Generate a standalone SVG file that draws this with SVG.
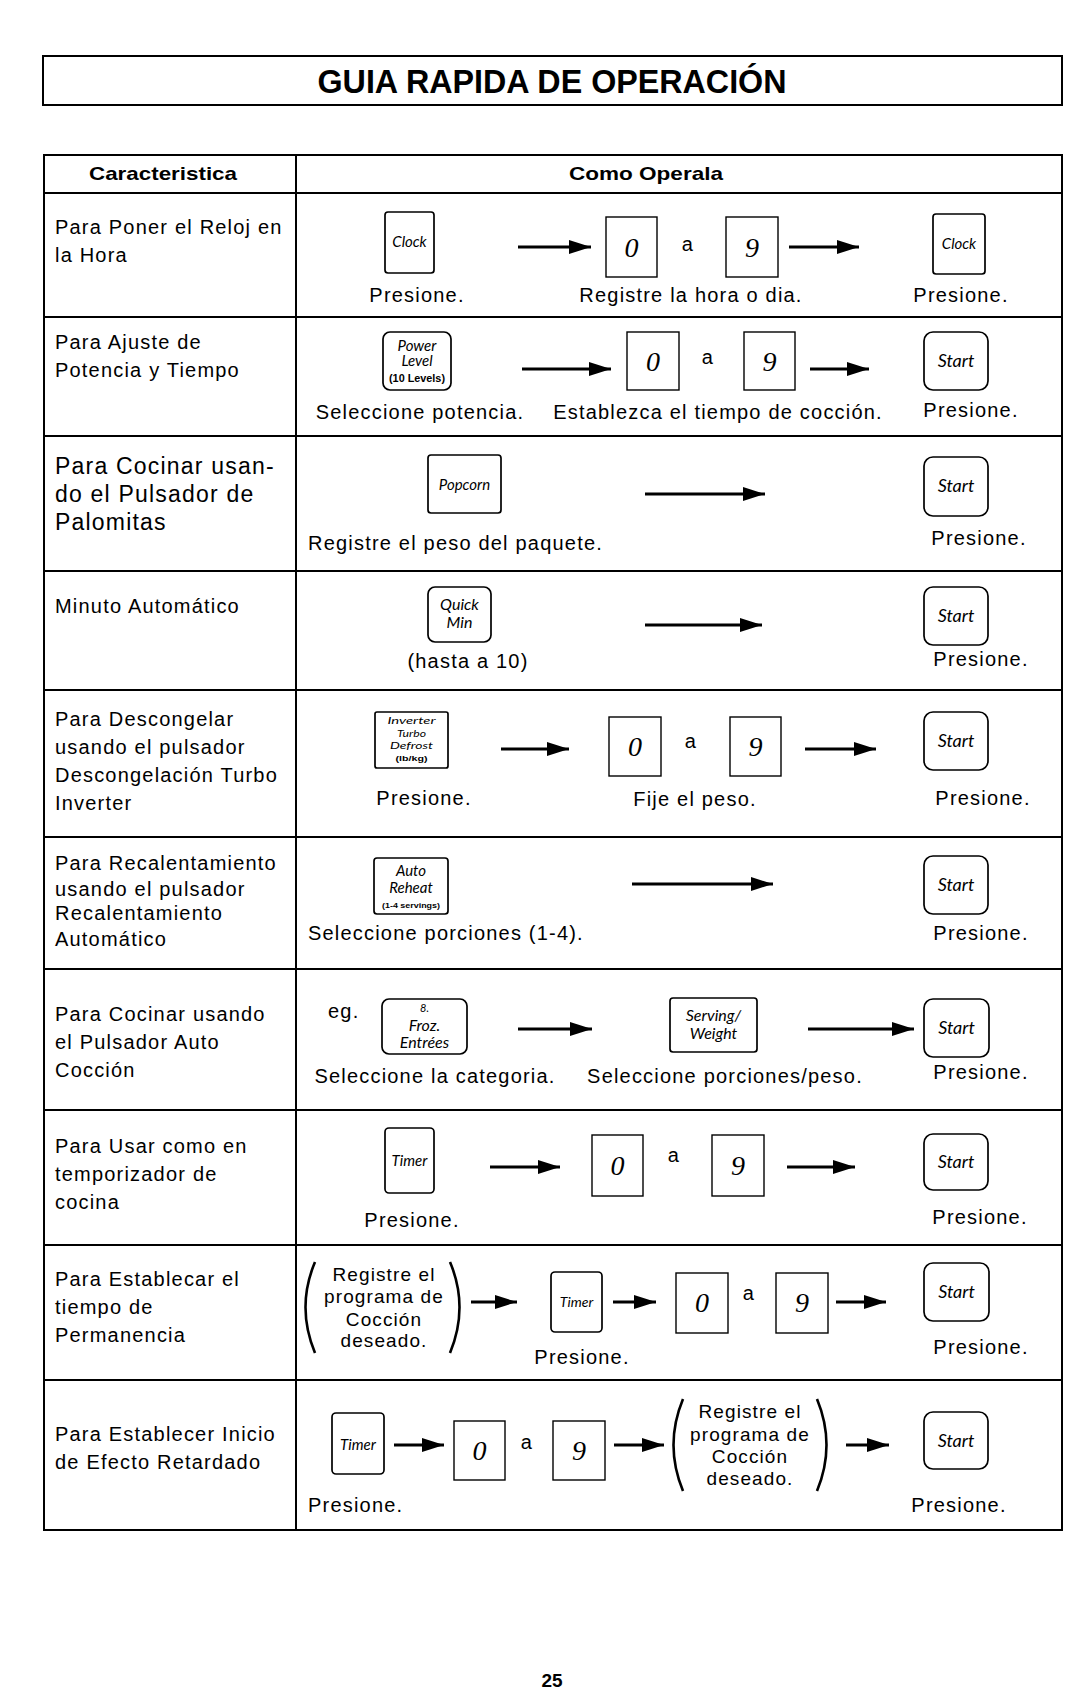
<svg xmlns="http://www.w3.org/2000/svg" width="1080" height="1690" viewBox="0 0 1080 1690">
<style>
.ln{stroke:#000;stroke-width:2;fill:none}
.t{font-family:'Liberation Sans',Arial,sans-serif;font-size:20px;letter-spacing:1.2px;fill:#000}
.tb{font-family:'Liberation Sans',Arial,sans-serif;font-weight:bold;fill:#000}
.c1{font-family:'Liberation Sans',Arial,sans-serif;font-size:20px;letter-spacing:1.2px;fill:#000}
.c1b{font-family:'Liberation Sans',Arial,sans-serif;font-size:23px;letter-spacing:1.2px;fill:#000}
.br{font-family:'Liberation Sans',Arial,sans-serif;font-size:19px;letter-spacing:1.1px;fill:#000;text-anchor:middle}
.m{text-anchor:middle}
.k{fill:#fff;stroke:#000;stroke-width:1.7}
.bx{fill:#fff;stroke:#000;stroke-width:1.4}
.kl{font-family:Lato,'Liberation Sans',sans-serif;font-style:italic;text-anchor:middle;fill:#000}
.ks{font-family:'Liberation Sans',Arial,sans-serif;font-weight:bold;text-anchor:middle;fill:#000}
.dg{font-family:'Liberation Serif','Times New Roman',serif;font-style:italic;font-size:28px;text-anchor:middle;fill:#000}
.ar{stroke:#000;stroke-width:3.2;fill:none;marker-end:url(#ah)}
.pr{stroke:#000;stroke-width:2.6;fill:none}
</style>
<defs>
<marker id="ah" markerUnits="userSpaceOnUse" markerWidth="22" markerHeight="14" refX="22" refY="7" orient="auto">
<path d="M0,0 L22,7 L0,14 z" fill="#000"/>
</marker>
</defs>
<rect width="1080" height="1690" fill="#fff"/>

<g id="title">
<rect x="43" y="56" width="1019" height="49" class="ln"/>
<text x="552" y="93" class="tb m" font-size="34" textLength="469" lengthAdjust="spacingAndGlyphs">GUIA RAPIDA DE OPERACIÓN</text>
</g>

<g id="table">
<rect x="44" y="155" width="1018" height="1375" class="ln"/>
<line x1="296" y1="155" x2="296" y2="1530" class="ln"/>
<line x1="44" y1="193" x2="1062" y2="193" class="ln"/>
<line x1="44" y1="317" x2="1062" y2="317" class="ln"/>
<line x1="44" y1="436" x2="1062" y2="436" class="ln"/>
<line x1="44" y1="571" x2="1062" y2="571" class="ln"/>
<line x1="44" y1="690" x2="1062" y2="690" class="ln"/>
<line x1="44" y1="837" x2="1062" y2="837" class="ln"/>
<line x1="44" y1="969" x2="1062" y2="969" class="ln"/>
<line x1="44" y1="1110" x2="1062" y2="1110" class="ln"/>
<line x1="44" y1="1245" x2="1062" y2="1245" class="ln"/>
<line x1="44" y1="1380" x2="1062" y2="1380" class="ln"/>
<text x="163" y="180" class="tb m" font-size="19" textLength="148" lengthAdjust="spacingAndGlyphs">Caracteristica</text>
<text x="646" y="180" class="tb m" font-size="19" textLength="154" lengthAdjust="spacingAndGlyphs">Como Operala</text>
</g>

<g id="features">
<text x="55" y="234" class="c1">Para Poner el Reloj en</text>
<text x="55" y="262" class="c1">la Hora</text>
<text x="55" y="349" class="c1">Para Ajuste de</text>
<text x="55" y="377" class="c1">Potencia y Tiempo</text>
<text x="55" y="474" class="c1b">Para Cocinar usan-</text>
<text x="55" y="502" class="c1b">do el Pulsador de</text>
<text x="55" y="530" class="c1b">Palomitas</text>
<text x="55" y="613" class="c1">Minuto Automático</text>
<text x="55" y="726" class="c1">Para Descongelar</text>
<text x="55" y="754" class="c1">usando el pulsador</text>
<text x="55" y="782" class="c1">Descongelación Turbo</text>
<text x="55" y="810" class="c1">Inverter</text>
<text x="55" y="870" class="c1">Para Recalentamiento</text>
<text x="55" y="896" class="c1">usando el pulsador</text>
<text x="55" y="920" class="c1">Recalentamiento</text>
<text x="55" y="946" class="c1">Automático</text>
<text x="55" y="1021" class="c1">Para Cocinar usando</text>
<text x="55" y="1049" class="c1">el Pulsador Auto</text>
<text x="55" y="1077" class="c1">Cocción</text>
<text x="55" y="1153" class="c1">Para Usar como en</text>
<text x="55" y="1181" class="c1">temporizador de</text>
<text x="55" y="1209" class="c1">cocina</text>
<text x="55" y="1286" class="c1">Para Establecar el</text>
<text x="55" y="1314" class="c1">tiempo de</text>
<text x="55" y="1342" class="c1">Permanencia</text>
<text x="55" y="1441" class="c1">Para Establecer Inicio</text>
<text x="55" y="1469" class="c1">de Efecto Retardado</text>
</g>

<!-- Row 1 -->
<g id="r1-clock"><rect x="385" y="212" width="49" height="61" rx="3" class="k"/><text x="409.5" y="247" class="kl" font-size="15">Clock</text></g>
<g id="r1-d0"><rect x="606" y="217" width="51" height="60" class="bx"/><text x="631.5" y="257" class="dg">0</text></g>
<text x="688" y="251" class="t m">a</text>
<g id="r1-d9"><rect x="726" y="217" width="52" height="60" class="bx"/><text x="752" y="257" class="dg">9</text></g>
<g id="r1-clock2"><rect x="933" y="214" width="52" height="60" rx="3" class="k"/><text x="959" y="249" class="kl" font-size="15">Clock</text></g>
<text x="417" y="302" class="t m">Presione.</text>
<text x="691" y="302" class="t m">Registre la hora o dia.</text>
<text x="961" y="302" class="t m">Presione.</text>

<!-- Row 2 -->
<g id="r2-power"><rect x="383" y="332" width="68" height="58" rx="7" class="k"/>
<text x="417" y="351" class="kl" font-size="15">Power</text>
<text x="417" y="366" class="kl" font-size="15">Level</text>
<text x="417" y="382" class="ks" font-size="10" textLength="56" lengthAdjust="spacingAndGlyphs">(10 Levels)</text></g>
<g id="r2-d0"><rect x="627" y="332" width="52" height="58" class="bx"/><text x="653" y="371" class="dg">0</text></g>
<text x="708" y="364" class="t m">a</text>
<g id="r2-d9"><rect x="744" y="332" width="51" height="58" class="bx"/><text x="769.5" y="371" class="dg">9</text></g>
<g id="r2-start"><rect x="924" y="332" width="64" height="58" rx="9" class="k"/><text x="956" y="367" class="kl" font-size="18">Start</text></g>
<text x="420" y="419" class="t m">Seleccione potencia.</text>
<text x="718" y="419" class="t m">Establezca el tiempo de cocción.</text>
<text x="971" y="417" class="t m">Presione.</text>

<!-- Row 3 -->
<g id="r3-popcorn"><rect x="428" y="455" width="73" height="58" rx="3" class="k"/><text x="464.5" y="490" class="kl" font-size="15">Popcorn</text></g>
<g id="r3-start"><rect x="924" y="457" width="64" height="59" rx="9" class="k"/><text x="956" y="492" class="kl" font-size="18">Start</text></g>
<text x="308" y="550" class="t">Registre el peso del paquete.</text>
<text x="979" y="545" class="t m">Presione.</text>

<!-- Row 4 -->
<g id="r4-quick"><rect x="428" y="587" width="63" height="55" rx="7" class="k"/>
<text x="459.5" y="610" class="kl" font-size="16">Quick</text>
<text x="459.5" y="628" class="kl" font-size="16">Min</text></g>
<g id="r4-start"><rect x="924" y="587" width="64" height="58" rx="9" class="k"/><text x="956" y="622" class="kl" font-size="18">Start</text></g>
<text x="468" y="668" class="t m">(hasta a 10)</text>
<text x="981" y="666" class="t m">Presione.</text>

<!-- Row 5 -->
<g id="r5-defrost"><rect x="375" y="712" width="73" height="56" rx="2" class="k"/>
<text x="411.5" y="724" class="kl" font-size="10" textLength="48" lengthAdjust="spacingAndGlyphs">Inverter</text>
<text x="411.5" y="736.5" class="kl" font-size="10" textLength="29" lengthAdjust="spacingAndGlyphs">Turbo</text>
<text x="411.5" y="749" class="kl" font-size="10" textLength="43" lengthAdjust="spacingAndGlyphs">Defrost</text>
<text x="411.5" y="761" class="ks" font-size="7" textLength="32" lengthAdjust="spacingAndGlyphs">(lb/kg)</text></g>
<g id="r5-d0"><rect x="609" y="717" width="52" height="59" class="bx"/><text x="635" y="756" class="dg">0</text></g>
<text x="691" y="748" class="t m">a</text>
<g id="r5-d9"><rect x="730" y="717" width="51" height="59" class="bx"/><text x="755.5" y="756" class="dg">9</text></g>
<g id="r5-start"><rect x="924" y="712" width="64" height="58" rx="9" class="k"/><text x="956" y="747" class="kl" font-size="18">Start</text></g>
<text x="424" y="805" class="t m">Presione.</text>
<text x="695" y="806" class="t m">Fije el peso.</text>
<text x="983" y="805" class="t m">Presione.</text>

<!-- Row 6 -->
<g id="r6-reheat"><rect x="374" y="858" width="74" height="56" rx="3" class="k"/>
<text x="411" y="876" class="kl" font-size="15">Auto</text>
<text x="411" y="893" class="kl" font-size="15">Reheat</text>
<text x="411" y="908" class="ks" font-size="8" textLength="58" lengthAdjust="spacingAndGlyphs">(1-4 servings)</text></g>
<g id="r6-start"><rect x="924" y="856" width="64" height="58" rx="9" class="k"/><text x="956" y="891" class="kl" font-size="18">Start</text></g>
<text x="308" y="940" class="t">Seleccione porciones (1-4).</text>
<text x="981" y="940" class="t m">Presione.</text>

<!-- Row 7 -->
<text x="328" y="1018" class="t">eg.</text>
<g id="r7-froz"><rect x="382" y="999" width="85" height="55" rx="7" class="k"/>
<text x="424.5" y="1012" class="kl" font-size="11">8.</text>
<text x="424.5" y="1031" class="kl" font-size="16">Froz.</text>
<text x="424.5" y="1048" class="kl" font-size="16">Entrées</text></g>
<g id="r7-serving"><rect x="670" y="998" width="87" height="54" rx="3" class="k"/>
<text x="713.5" y="1021" class="kl" font-size="16">Serving/</text>
<text x="713.5" y="1039" class="kl" font-size="16">Weight</text></g>
<g id="r7-start"><rect x="924" y="999" width="65" height="58" rx="9" class="k"/><text x="956.5" y="1034" class="kl" font-size="18">Start</text></g>
<text x="435" y="1083" class="t m">Seleccione la categoria.</text>
<text x="725" y="1083" class="t m">Seleccione porciones/peso.</text>
<text x="981" y="1079" class="t m">Presione.</text>

<!-- Row 8 -->
<g id="r8-timer"><rect x="385" y="1128" width="49" height="65" rx="4" class="k"/><text x="409.5" y="1166" class="kl" font-size="15">Timer</text></g>
<g id="r8-d0"><rect x="592" y="1135" width="51" height="61" class="bx"/><text x="617.5" y="1175" class="dg">0</text></g>
<text x="674" y="1162" class="t m">a</text>
<g id="r8-d9"><rect x="712" y="1135" width="52" height="61" class="bx"/><text x="738" y="1175" class="dg">9</text></g>
<g id="r8-start"><rect x="924" y="1134" width="64" height="56" rx="9" class="k"/><text x="956" y="1168" class="kl" font-size="18">Start</text></g>
<text x="412" y="1227" class="t m">Presione.</text>
<text x="980" y="1224" class="t m">Presione.</text>

<!-- Row 9 -->
<g id="r9-program">
<path d="M315,1262 Q296,1307 315,1353" class="pr"/>
<path d="M450,1262 Q469,1307 450,1353" class="pr"/>
<text x="384" y="1281" class="br">Registre el</text>
<text x="384" y="1303" class="br">programa de</text>
<text x="384" y="1326" class="br">Cocción</text>
<text x="384" y="1347" class="br">deseado.</text>
</g>
<g id="r9-timer"><rect x="551" y="1272" width="51" height="60" rx="4" class="k"/><text x="576.5" y="1307" class="kl" font-size="14">Timer</text></g>
<g id="r9-d0"><rect x="676" y="1273" width="52" height="60" class="bx"/><text x="702" y="1312" class="dg">0</text></g>
<text x="749" y="1300" class="t m">a</text>
<g id="r9-d9"><rect x="776" y="1273" width="52" height="60" class="bx"/><text x="802" y="1312" class="dg">9</text></g>
<g id="r9-start"><rect x="924" y="1263" width="65" height="58" rx="9" class="k"/><text x="956.5" y="1298" class="kl" font-size="18">Start</text></g>
<text x="582" y="1364" class="t m">Presione.</text>
<text x="981" y="1354" class="t m">Presione.</text>

<!-- Row 10 -->
<g id="r10-timer"><rect x="332" y="1413" width="52" height="61" rx="4" class="k"/><text x="358" y="1450" class="kl" font-size="15">Timer</text></g>
<g id="r10-d0"><rect x="454" y="1421" width="51" height="59" class="bx"/><text x="479.5" y="1460" class="dg">0</text></g>
<text x="527" y="1449" class="t m">a</text>
<g id="r10-d9"><rect x="553" y="1421" width="52" height="59" class="bx"/><text x="579" y="1460" class="dg">9</text></g>
<g id="r10-program">
<path d="M683,1399 Q664,1445 683,1491" class="pr"/>
<path d="M817,1399 Q836,1445 817,1491" class="pr"/>
<text x="750" y="1418" class="br">Registre el</text>
<text x="750" y="1441" class="br">programa de</text>
<text x="750" y="1463" class="br">Cocción</text>
<text x="750" y="1485" class="br">deseado.</text>
</g>
<g id="r10-start"><rect x="924" y="1412" width="64" height="57" rx="9" class="k"/><text x="956" y="1447" class="kl" font-size="18">Start</text></g>
<text x="308" y="1512" class="t">Presione.</text>
<text x="959" y="1512" class="t m">Presione.</text>

<g id="connectors">
<line x1="518" y1="247" x2="591" y2="247" class="ar"/>
<line x1="789" y1="247" x2="859" y2="247" class="ar"/>
<line x1="522" y1="369" x2="611" y2="369" class="ar"/>
<line x1="810" y1="369" x2="869" y2="369" class="ar"/>
<line x1="645" y1="494" x2="765" y2="494" class="ar"/>
<line x1="645" y1="625" x2="762" y2="625" class="ar"/>
<line x1="501" y1="749" x2="569" y2="749" class="ar"/>
<line x1="805" y1="749" x2="876" y2="749" class="ar"/>
<line x1="632" y1="884" x2="773" y2="884" class="ar"/>
<line x1="518" y1="1029" x2="592" y2="1029" class="ar"/>
<line x1="808" y1="1029" x2="914" y2="1029" class="ar"/>
<line x1="490" y1="1167" x2="560" y2="1167" class="ar"/>
<line x1="787" y1="1167" x2="855" y2="1167" class="ar"/>
<line x1="471" y1="1302" x2="517" y2="1302" class="ar"/>
<line x1="613" y1="1302" x2="656" y2="1302" class="ar"/>
<line x1="836" y1="1302" x2="886" y2="1302" class="ar"/>
<line x1="394" y1="1445" x2="444" y2="1445" class="ar"/>
<line x1="614" y1="1445" x2="664" y2="1445" class="ar"/>
<line x1="846" y1="1445" x2="889" y2="1445" class="ar"/>
</g>

<text x="552" y="1687" class="tb m" font-size="19">25</text>
</svg>
